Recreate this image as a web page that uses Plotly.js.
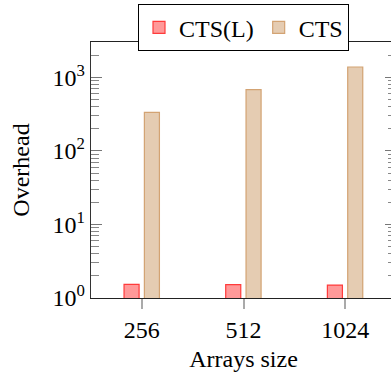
<!DOCTYPE html>
<html>
<head>
<meta charset="utf-8">
<script src="https://cdn.plot.ly/plotly-3.0.1.min.js"></script>
<style>
html,body{margin:0;padding:0;overflow:hidden;background:#fff;}
#chart{width:400px;height:375px;}
.legendtext{font-family:"Liberation Serif", serif !important;}
</style>
</head>
<body>
<div id="chart"></div>
<script>
const categories = ['256', '512', '1024'];
const ctsL = [1.53, 1.52, 1.50];
const cts = [333, 680, 1380];
const yTickVals = [1, 10, 100, 1000];
const yTickText = ['10<sup>0</sup>', '10<sup>1</sup>', '10<sup>2</sup>', '10<sup>3</sup>'];

const minorVals = [];
for (let d = 1; d <= 1000; d *= 10) {
  for (let m = 2; m <= 9; m++) minorVals.push(m * d);
}

function serif(size) {
  return {family: 'Liberation Serif', size: size, color: '#000'};
}

const traces = [
  {
    type: 'bar', name: 'CTS(L)', x: categories, y: ctsL,
    width: 0.148, offset: -0.175,
    marker: {color: '#ff9999', line: {color: '#ff3b3b', width: 1.2}}
  },
  {
    type: 'bar', name: 'CTS', x: categories, y: cts,
    width: 0.148, offset: 0.025,
    marker: {color: '#e5ccb2', line: {color: '#d3a373', width: 1.2}}
  }
];

const layout = {
  width: 400, height: 375,
  margin: {l: 91, r: 4, t: 39, b: 77},
  paper_bgcolor: '#fff', plot_bgcolor: '#fff',
  font: serif(24),
  barmode: 'overlay',
  showlegend: true,
  legend: {
    orientation: 'h', x: 0.5, xanchor: 'center', y: 1.147, yanchor: 'top',
    bordercolor: '#000', borderwidth: 1, bgcolor: '#fff',
    font: serif(24), traceorder: 'normal'
  },
  xaxis: {
    type: 'category', range: [-0.5, 2.5],
    showline: true, linecolor: '#222', linewidth: 1.2, mirror: true,
    ticks: 'outside', ticklen: 10, tickwidth: 2, tickcolor: '#aaa',
    showgrid: false, zeroline: false,
    title: {text: 'Arrays size', font: serif(24), standoff: 8},
    tickfont: serif(24)
  },
  yaxis: {
    type: 'log', range: [0, 3.48],
    tickmode: 'array', tickvals: yTickVals, ticktext: yTickText,
    showline: true, linecolor: '#333', linewidth: 1.2, mirror: 'ticks',
    ticks: 'inside', ticklen: 11, tickwidth: 1.2, tickcolor: '#777',
    minor: {tickmode: 'array', tickvals: minorVals, ticks: 'inside', ticklen: 8, tickwidth: 1, tickcolor: '#888', showgrid: false},
    showgrid: false, zeroline: false,
    title: {text: 'Overhead', font: serif(24), standoff: 16},
    tickfont: serif(24)
  }
};

Plotly.newPlot('chart', traces, layout, {displayModeBar: false, staticPlot: true});
</script>
</body>
</html>
